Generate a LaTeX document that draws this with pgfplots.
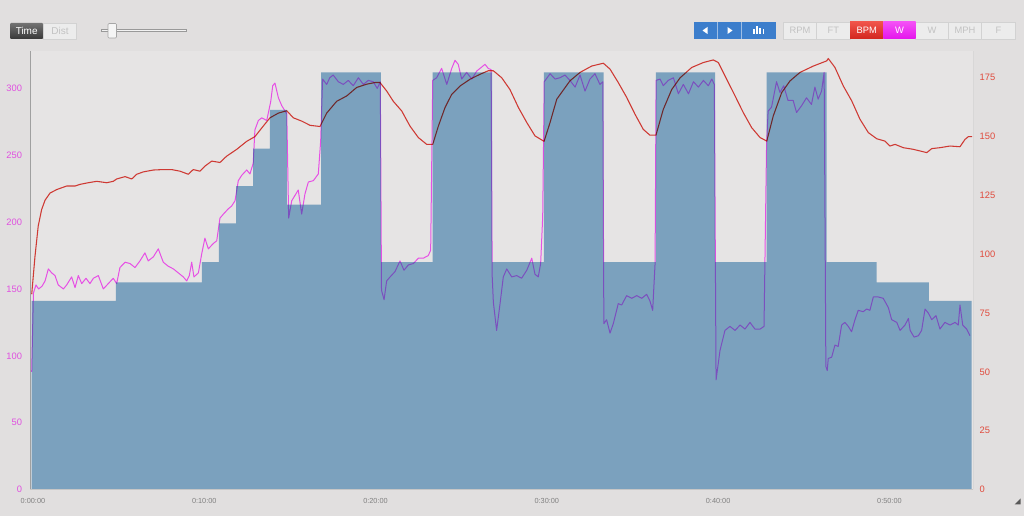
\documentclass[border=0pt]{standalone}
\usepackage{fontspec}
\setmainfont{Liberation Sans}
\usepackage{pgfplots}
\pgfplotsset{compat=1.18}
\definecolor{pagebg}{HTML}{E1DFDF}
\definecolor{plotbg}{HTML}{E6E4E4}
\definecolor{stepblue}{HTML}{7BA1BE}
\definecolor{magline}{HTML}{E850F0}
\definecolor{hrred}{HTML}{E5403A}
\definecolor{maglabel}{HTML}{E050E0}
\definecolor{redlabel}{HTML}{E04A3C}
\definecolor{axisgray}{HTML}{A0A0A0}
\definecolor{btnblue}{HTML}{3C7ECC}
\definecolor{btnface}{HTML}{ECECEC}
\definecolor{btnedge}{HTML}{D2D2D2}
\definecolor{btntext}{HTML}{C2C2C2}

\pgfplotstableread{
t W
0.1 141
5.02 155
10.03 170
11.03 199
12.03 227
13.02 255
14.01 284
15.0 213
16.99 312
20.49 170
23.51 312
26.97 170
30.0 312
33.49 170
36.53 312
39.99 170
43.0 312
46.5 170
49.43 155
52.48 141
54.97 141
}\steps

\pgfplotstableread{
t W
0.1 88
0.2 147
0.35 153
0.5 150
0.7 152
0.88 156
1.07 165
1.27 162
1.46 160
1.65 153
1.95 150
2.14 153
2.43 159
2.63 151
2.82 160
3.02 154
3.27 158
3.5 154
3.7 158
3.99 160
4.28 150
4.57 154
4.86 158
5.06 154
5.25 166
5.55 170
5.84 169
6.13 166
6.42 171
6.71 177
6.9 171
7.2 174
7.49 180
7.78 170
8.07 167
8.37 165
8.66 162
8.95 159
9.15 156
9.3 160
9.44 170
9.57 159
9.83 162
10.02 176
10.21 188
10.41 180
10.7 184
10.9 186
11.09 203
11.29 206
11.58 210
11.77 212
11.97 216
12.16 231
12.36 235
12.65 239
12.84 236
13.03 244
13.13 269
13.33 276
13.53 278
13.82 276
14.05 290
14.17 302
14.3 304
14.5 293
14.7 287
14.99 281
15.1 203
15.28 216
15.47 220
15.66 224
15.86 206
16.05 221
16.25 230
16.54 231
16.83 236
16.97 261
17.08 307
17.32 303
17.5 308
17.7 310
18.0 305
18.29 303
18.58 306
18.87 302
19.17 308
19.46 303
19.75 306
20.04 305
20.27 300
20.45 305
20.52 149
20.67 142
20.82 156
21.02 159
21.31 163
21.6 171
21.83 164
22.09 168
22.38 169
22.67 173
22.96 173
23.25 175
23.39 179
23.51 306
23.74 308
24.03 315
24.33 303
24.62 315
24.81 321
25.0 318
25.2 307
25.49 312
25.79 307
26.08 313
26.37 316
26.56 318
26.75 315
26.92 314
26.98 160
27.05 140
27.24 119
27.44 139
27.63 159
27.83 165
28.12 159
28.41 160
28.7 158
29.0 164
29.29 173
29.48 161
29.67 159
29.81 169
29.93 204
30.02 305
30.36 311
30.65 307
30.94 308
31.23 310
31.52 306
31.82 301
32.11 310
32.4 298
32.69 307
32.98 311
33.27 303
33.44 305
33.5 124
33.66 127
33.86 117
34.05 124
34.34 139
34.54 138
34.83 145
35.13 143
35.42 145
35.71 143
36.0 146
36.19 141
36.35 134
36.49 169
36.55 306
36.78 307
36.97 302
37.26 306
37.56 308
37.85 296
38.14 303
38.44 296
38.73 305
39.02 301
39.31 306
39.6 302
39.8 307
39.95 303
40.05 82
40.28 104
40.57 119
40.86 122
41.16 119
41.45 123
41.74 120
42.03 125
42.32 120
42.62 120
42.85 122
43.0 259
43.09 283
43.29 286
43.58 305
43.78 297
44.0 302
44.25 291
44.55 291
44.75 282
45.04 287
45.33 293
45.62 288
45.82 301
46.01 292
46.21 298
46.36 312
46.46 92
46.54 89
46.6 98
46.8 99
46.99 108
47.18 107
47.38 123
47.57 125
47.77 122
47.96 118
48.16 127
48.35 134
48.64 133
48.84 135
49.03 134
49.23 144
49.52 144
49.81 143
50.11 136
50.3 127
50.6 125
50.79 119
51.08 123
51.28 128
51.38 119
51.61 114
51.86 115
52.05 119
52.25 135
52.44 132
52.64 127
52.89 130
53.12 120
53.41 125
53.71 123
54.0 125
54.19 123
54.29 138
54.45 123
54.68 120
54.87 115
}\power

\pgfplotstableread{
t B
0.10 83
0.29 99
0.48 112
0.68 119
0.88 123
1.17 126
1.56 127.5
2.14 129
2.63 129
2.92 129.7
3.40 130.4
3.89 131
4.48 130.4
4.86 131
5.06 132
5.55 133
5.94 132
6.23 134
6.61 135
7.20 135.8
7.78 136
8.27 136
8.76 135.3
9.24 134
9.53 136
9.92 135.3
10.22 137.5
10.61 139.6
11.09 139
11.48 141.7
12.07 144.6
12.65 148
13.13 150
13.62 154.5
14.01 158
14.50 160
14.99 161
15.37 158
15.86 156.6
16.35 154.8
16.93 154.3
17.32 160
17.90 165
18.49 167.3
19.07 170.9
19.66 172.3
20.14 173
20.43 173
20.82 169.4
21.21 165
21.70 160.9
22.18 154.5
22.67 149.6
23.16 146.7
23.51 146.7
23.84 154.5
24.23 162.4
24.62 168
25.10 171.5
25.69 174.4
26.27 176.5
26.75 178
27.05 178
27.54 175
28.02 170
28.51 162.4
29.00 156
29.48 150.3
30.01 148
30.36 156
30.75 165.9
31.52 173.7
32.11 177.3
32.79 180
33.47 181.2
33.86 178.7
34.34 173
34.83 166.7
35.32 159.5
35.80 153.1
36.19 150.6
36.54 150.6
36.97 161.6
37.46 170
37.95 175
38.63 179.4
39.31 181.5
39.89 182.6
40.18 181.5
40.67 174.4
41.16 167.3
41.64 160.2
42.13 153.8
42.62 149.6
43.01 148.1
43.39 158.8
43.88 168.7
44.37 173.7
44.95 177.3
45.73 180
46.51 182.2
46.60 183.2
46.99 179.4
47.48 171.5
47.97 165.2
48.45 157.4
48.94 151.7
49.43 149.1
49.91 148.1
50.20 146
50.50 146.7
50.98 145.3
51.56 144.6
51.96 143.9
52.35 143.2
52.64 144.9
53.12 145.3
53.71 146
54.29 145.7
54.58 148.8
54.78 150
55.00 150
}\heart

\begin{document}
\begin{tikzpicture}
\fill[pagebg] (0,0) rectangle (768pt,387pt);

\begin{axis}[
  at={(22.5pt,19.875pt)}, anchor=south west,
  scale only axis, width=707.25pt, height=328.875pt,
  xmin=0, xmax=55.05, ymin=0, ymax=328,
  axis line style={draw=none},
  axis background/.style={fill=plotbg},
  major tick length=0pt,
  ytick pos=left, xtick pos=bottom,
  ytick={0,50,...,300},
  xtick={0,10,...,50},
  xticklabels={0:00:00,0:10:00,0:20:00,0:30:00,0:40:00,0:50:00},
  yticklabel style={font=\fontsize{7}{8}\selectfont, text=maglabel, xshift=-2.5pt},
  xticklabel style={font=\fontsize{5.5}{6}\selectfont, text=gray, xshift=2.2pt, yshift=-3.2pt},
  /pgf/number format/assume math mode=true,
]
\addplot[const plot, fill=stepblue, draw=none] table[x=t,y=W] {\steps} \closedcycle;
\addplot[magline, line width=0.75pt, line join=round, blend mode=darken] table[x=t,y=W] {\power};
\draw[axisgray, line width=0.6pt] (rel axis cs:0,0) -- (rel axis cs:0,1);
\draw[axisgray, line width=0.6pt] (rel axis cs:1,0) -- (rel axis cs:1,1);
\draw[gray!45, line width=0.6pt] (rel axis cs:0,0) -- (rel axis cs:1,0);
\end{axis}

\begin{axis}[
  at={(22.5pt,19.875pt)}, anchor=south west,
  scale only axis, width=707.25pt, height=328.875pt,
  xmin=0, xmax=55.05, ymin=0, ymax=186.4,
  axis line style={draw=none},
  major tick length=0pt,
  ytick pos=right, xtick=\empty,
  ytick={0,25,...,175},
  yticklabel style={font=\fontsize{7}{8}\selectfont, text=redlabel, xshift=1.5pt},
  /pgf/number format/assume math mode=true,
]
\addplot[hrred, line width=0.8pt, line join=round, blend mode=multiply] table[x=t,y=B] {\heart};
\end{axis}

\begin{scope}[x=0.75pt, y=-0.75pt, shift={(0pt,387pt)}]
  % Time / Dist toggle
  \shade[top color=black!55, bottom color=black!78, rounded corners=0.8pt] (10,23) rectangle (43.3,39);
  \node[text=white, font=\fontsize{7.5}{8}\selectfont] at (26.7,31) {Time};
  \fill[btnface] (43.3,23) rectangle (76.7,39);
  \draw[btnedge, line width=0.4pt] (43.3,23) rectangle (76.7,39);
  \node[text=btntext, font=\fontsize{7.5}{8}\selectfont] at (60,31) {Dist};
  % slider
  \draw[black!40, fill=white!95!black, line width=0.4pt] (101,29) rectangle (186,31.5);
  \draw[black!35, fill=white!96!black, line width=0.4pt, rounded corners=0.8pt] (108,23.5) rectangle (116.5,38);
  % blue navigation group
  \fill[btnblue] (694,22) rectangle (776,39);
  \draw[white!50!btnblue, line width=0.4pt] (717.7,22) -- (717.7,39);
  \draw[white!50!btnblue, line width=0.4pt] (741.7,22) -- (741.7,39);
  \fill[white] (702.5,30.5) -- (707.5,27) -- (707.5,34) -- cycle;
  \fill[white] (727.5,27) -- (727.5,34) -- (732.5,30.5) -- cycle;
  \fill[white] (753,29) rectangle (754.6,34.5);
  \fill[white] (756.2,26.5) rectangle (757.8,34.5);
  \fill[white] (759.4,28) rectangle (761,34.5);
  \fill[white] (762.6,29.5) rectangle (764.2,34.5);
  % metric buttons
  \foreach \a/\b/\lbl in {783.3/816.7/RPM, 816.7/850/FT, 915.7/948.3/W, 948.3/981.7/MPH, 981.7/1015/F}{
    \fill[btnface] (\a,22) rectangle (\b,39);
    \draw[btnedge, line width=0.4pt] (\a,22) rectangle (\b,39);
    \node[text=btntext, font=\fontsize{7}{8}\selectfont] at ({(\a+\b)/2},30.7) {\lbl};
  }
  \shade[top color={rgb,255:red,240;green,84;blue,74}, bottom color={rgb,255:red,210;green,38;blue,30}] (850,22) rectangle (883.3,39);
  \node[text=white, font=\fontsize{7}{8}\selectfont] at (866.7,30.7) {BPM};
  \shade[top color={rgb,255:red,244;green,80;blue,246}, bottom color={rgb,255:red,228;green,20;blue,236}] (883.3,22) rectangle (915.7,39);
  \node[text=white, font=\fontsize{7}{8}\selectfont] at (899.5,30.7) {W};
  % resize grip
  \fill[black!65] (1020.5,498.5) -- (1020.5,504.5) -- (1014.5,504.5) -- cycle;
\end{scope}

\pgfresetboundingbox
\path (0,0) rectangle (768pt,387pt);
\end{tikzpicture}
\end{document}
